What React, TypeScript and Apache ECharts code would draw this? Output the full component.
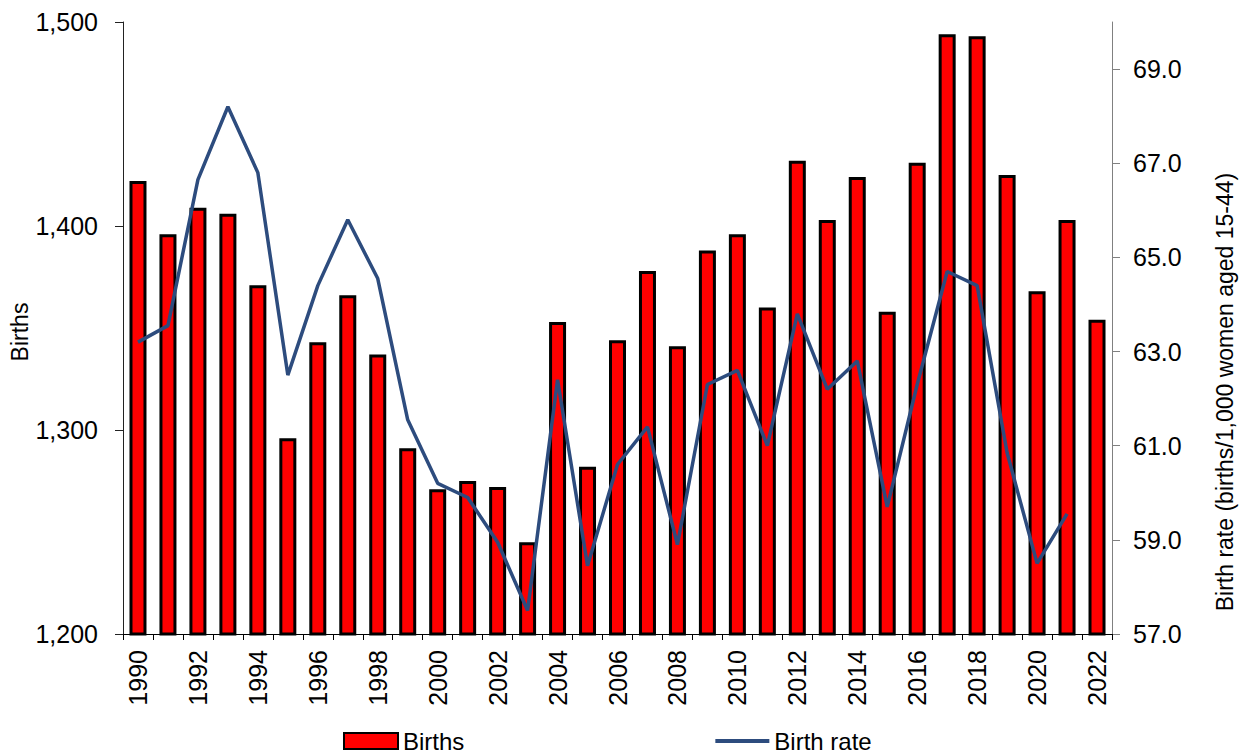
import React, { useEffect, useRef } from "react";
import * as echarts from "echarts";

const years = [
  "1990", "1991", "1992", "1993", "1994", "1995", "1996", "1997", "1998", "1999",
  "2000", "2001", "2002", "2003", "2004", "2005", "2006", "2007", "2008", "2009",
  "2010", "2011", "2012", "2013", "2014", "2015", "2016", "2017", "2018", "2019",
  "2020", "2021", "2022",
];

const births = [
  1422, 1396, 1409, 1406, 1371, 1296, 1343, 1366, 1337, 1291,
  1271, 1275, 1272, 1245, 1353, 1282, 1344, 1378, 1341, 1388,
  1396, 1360, 1432, 1403, 1424, 1358, 1431, 1494, 1493, 1425,
  1368, 1403, 1354,
];

const birthRate = [
  63.2, 63.55, 66.65, 68.2, 66.8, 62.5, 64.4, 65.8, 64.55, 61.55,
  60.2, 59.9, 58.95, 57.5, 62.4, 58.45, 60.6, 61.4, 58.9, 62.3,
  62.6, 61.0, 63.8, 62.2, 62.8, 59.7, 62.3, 64.7, 64.4, 60.85,
  58.5, 59.55, null,
];

const rateTicks = [57, 59, 61, 63, 65, 67, 69];

const FONT = "Liberation Sans, Arial, sans-serif";

export default function App() {
  const ref = useRef<HTMLDivElement>(null);

  useEffect(() => {
    if (!ref.current) return;
    const chart = echarts.init(ref.current, null, { renderer: "svg" });
    chart.setOption({
      animation: false,
      backgroundColor: "#ffffff",
      textStyle: { fontFamily: FONT },
      grid: { left: 123, right: 138, top: 22, bottom: 120, containLabel: false },
      legend: {
        left: 338,
        top: 723,
        itemWidth: 54,
        itemHeight: 16,
        itemGap: 249,
        textStyle: { fontFamily: FONT, fontSize: 24, color: "#000", lineHeight: 26 },
        data: [
          { name: "Births", icon: "rect" },
          {
            name: "Birth rate",
            itemStyle: { opacity: 0 },
            lineStyle: { width: 4, color: "#2d4c7e" },
          },
        ],
      },
      xAxis: {
        type: "category",
        data: years,
        boundaryGap: true,
        axisLine: { lineStyle: { color: "#000", width: 1 } },
        axisTick: { show: true, interval: 0, length: 6, lineStyle: { color: "#000" } },
        axisLabel: {
          interval: 1,
          rotate: 90,
          margin: 16,
          fontFamily: FONT,
          fontSize: 25,
          color: "#000",
        },
        splitLine: { show: false },
      },
      yAxis: [
        {
          type: "value",
          min: 1200,
          max: 1500,
          interval: 100,
          position: "left",
          axisLine: { show: true, lineStyle: { color: "#222", width: 1 } },
          axisTick: { show: true, length: 8, lineStyle: { color: "#222" } },
          axisLabel: {
            margin: 25,
            fontFamily: FONT,
            fontSize: 25,
            color: "#000",
            formatter: (v: number) => v.toLocaleString("en-US"),
          },
          splitLine: { show: false },
        },
        {
          type: "value",
          min: 57,
          max: 70,
          position: "right",
          axisLine: { show: true, lineStyle: { color: "#808080", width: 1 } },
          axisTick: {
            show: true,
            length: 8,
            lineStyle: { color: "#808080" },
            customValues: rateTicks,
          },
          axisLabel: {
            margin: 21,
            fontFamily: FONT,
            fontSize: 25,
            color: "#000",
            customValues: rateTicks,
            formatter: (v: number) => v.toFixed(1),
          },
          splitLine: { show: false },
        },
      ],
      graphic: [
        {
          type: "text",
          x: 20,
          y: 332,
          rotation: Math.PI / 2,
          style: {
            text: "Births",
            fontFamily: FONT,
            fontSize: 23,
            fill: "#000",
            align: "center",
            verticalAlign: "middle",
          },
        },
        {
          type: "text",
          x: 1225,
          y: 392,
          rotation: Math.PI / 2,
          style: {
            text: "Birth rate (births/1,000 women aged 15-44)",
            fontFamily: FONT,
            fontSize: 23,
            fill: "#000",
            align: "center",
            verticalAlign: "middle",
          },
        },
      ],
      series: [
        {
          name: "Births",
          type: "bar",
          yAxisIndex: 0,
          data: births,
          barWidth: 17,
          itemStyle: { color: "#ff0000", borderColor: "#000", borderWidth: 3 },
        },
        {
          name: "Birth rate",
          type: "line",
          yAxisIndex: 1,
          data: birthRate,
          symbol: "none",
          connectNulls: false,
          lineStyle: { color: "#2d4c7e", width: 3.5 },
          itemStyle: { color: "#2d4c7e", opacity: 0 },
        },
      ],
    });
    return () => chart.dispose();
  }, []);

  return (
    <div
      ref={ref}
      style={{ position: "fixed", left: 0, top: 0, width: 1250, height: 754 }}
    />
  );
}
